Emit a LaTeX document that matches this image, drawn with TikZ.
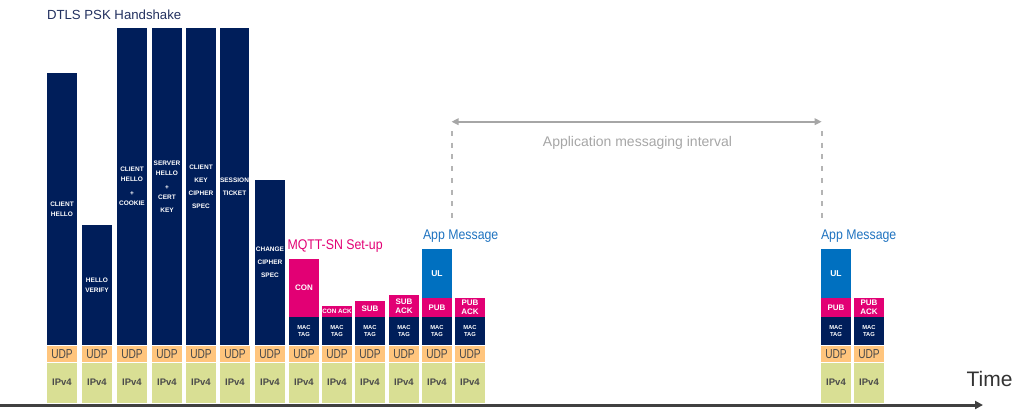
\documentclass[tikz,border=0pt]{standalone}
\usepackage{fontspec}
\setmainfont{Liberation Sans}
\newfontfamily\condfont[FakeStretch=0.88]{Liberation Sans}
\newfontfamily\udpfont[FakeStretch=0.78]{Liberation Sans}
\usetikzlibrary{arrows.meta}
\definecolor{navy}{HTML}{001E5A}
\definecolor{tmag}{HTML}{E20074}
\definecolor{ulblue}{HTML}{0070C0}
\definecolor{udpc}{HTML}{FFC57D}
\definecolor{ipc}{HTML}{D9DF94}
\definecolor{udpt}{HTML}{4A4A4A}
\definecolor{axisc}{HTML}{404040}
\definecolor{intc}{HTML}{A6A6A6}
\definecolor{dashc}{HTML}{B4B4B4}
\definecolor{titlec}{HTML}{22305F}
\definecolor{appc}{HTML}{1F73C0}
\definecolor{timec}{HTML}{333333}
\tikzset{
  blk/.style={anchor=north west, minimum width=30pt, inner sep=0pt, outer sep=0pt, text=white, align=center},
  hs/.style={blk, fill=navy, font=\fontsize{6.5}{10}\selectfont\bfseries},
  mac/.style={blk, fill=navy, font=\fontsize{5.8}{7.5}\selectfont\bfseries, minimum height=28pt},
  mq/.style={blk, fill=tmag, font=\fontsize{8}{9}\selectfont\bfseries},
  ulbox/.style={blk, fill=ulblue, font=\fontsize{8.5}{9}\selectfont\bfseries, minimum height=48.7pt},
  udpbox/.style={blk, fill=udpc, text=udpt, font=\udpfont\fontsize{13}{13}\selectfont, minimum height=15.7pt},
  ipbox/.style={blk, fill=ipc, text=udpt, font=\fontsize{9.5}{10}\selectfont\bfseries, minimum height=40pt},
  lbl/.style={inner sep=0pt, outer sep=0pt},
  axisline/.style={line width=3pt, axisc, -{Triangle[length=8pt,width=8pt]}},
  intline/.style={line width=2pt, intc, {Triangle[length=7pt,width=6.5pt]}-{Triangle[length=7pt,width=6.5pt]}},
  dashline/.style={line width=2pt, dashc, dash pattern=on 5pt off 6.7pt},
}
\begin{document}
\begin{tikzpicture}[x=1pt,y=-1pt]
\useasboundingbox (0,0) rectangle (1027,415);

% title and labels
\node[lbl, anchor=west, text=titlec, font=\fontsize{13.2}{15}\selectfont] (title) at (47,14.5) {DTLS PSK Handshake};
\node[lbl, anchor=west, text=tmag, font=\condfont\fontsize{14}{16}\selectfont] (mqtt) at (287.5,246.5) {MQTT-SN Set-up};
\node[lbl, anchor=west, text=appc, font=\condfont\fontsize{14}{16}\selectfont] (app1) at (423,236.5) {App Message};
\node[lbl, anchor=west, text=appc, font=\condfont\fontsize{14}{16}\selectfont] (app2) at (821,236.5) {App Message};
\node[lbl, text=intc, font=\fontsize{14}{16}\selectfont] (ival) at (637.5,143) {Application messaging interval};
\node[lbl, text=timec, font=\fontsize{21}{24}\selectfont] (time) at (989.5,379) {Time};

% handshake bars
\node[hs, minimum height=272pt] (c1) at (47,73) {CLIENT\\HELLO};
\node[hs, minimum height=120pt] (c2) at (82,225) {HELLO\\VERIFY};
\node[hs, minimum height=317pt] (c3) at (117,28) {CLIENT\\HELLO\\[4pt]+\\COOKIE};
\node[hs, minimum height=317pt] (c4) at (152,28) {SERVER\\HELLO\\[4pt]+\\CERT\\[3pt]KEY};
\node[hs, minimum height=317pt] (c5) at (186,28) {CLIENT\\[3pt]KEY\\[3pt]CIPHER\\[3pt]SPEC};
\node[hs, minimum height=317pt, minimum width=29pt] (c6) at (220,28) {SESSION\\[3pt]TICKET};
\node[hs, minimum height=165pt] (c7) at (255,180) {CHANGE\\[3pt]CIPHER\\[3pt]SPEC};

% MQTT-SN set-up
\node[mq, minimum height=58pt] (con) at (289,259) {CON};
\node[mq, minimum height=11pt, font=\fontsize{6.3}{7}\selectfont\bfseries] (conack) at (322,306) {CON ACK};
\node[mq, minimum height=16pt] (sub) at (355,301) {SUB};
\node[mq, minimum height=22pt] (suback) at (389,295) {SUB\\ACK};

% app messages
\node[ulbox] (ul1) at (422,249) {UL};
\node[mq, minimum height=19.3pt] (pub1) at (422,297.7) {PUB};
\node[mq, minimum height=19.3pt] (puback1) at (455,297.7) {PUB\\ACK};
\node[ulbox] (ul2) at (821,249) {UL};
\node[mq, minimum height=19.3pt] (pub2) at (821,297.7) {PUB};
\node[mq, minimum height=19.3pt] (puback2) at (854,297.7) {PUB\\ACK};

% MAC tags
\foreach \x [count=\i] in {289,322,355,389,422,455,821,854} {
  \node[mac] (m\i) at (\x,317) {MAC\\TAG};
}

% UDP / IPv4 layers
\foreach \x [count=\i] in {47,82,117,152,186,220,255,289,322,355,389,422,455,821,854} {
  \node[udpbox] (u\i) at (\x,346) {UDP};
  \node[ipbox] (p\i) at (\x,362.7) {IPv4};
}

% time axis
\coordinate (ax0) at (0,405);
\coordinate (ax1) at (983,405);
\draw[axisline] (ax0) -- (ax1);

% application messaging interval
\coordinate (iv0) at (451.5,121.7);
\coordinate (iv1) at (821.7,121.7);
\draw[intline] (iv0) -- (iv1);
\coordinate (dl0) at (451.5,131);
\coordinate (dl1) at (451.5,223);
\coordinate (dr0) at (821.7,131);
\coordinate (dr1) at (821.7,223);
\draw[dashline] (dl0) -- (dl1);
\draw[dashline] (dr0) -- (dr1);
\end{tikzpicture}
\end{document}
